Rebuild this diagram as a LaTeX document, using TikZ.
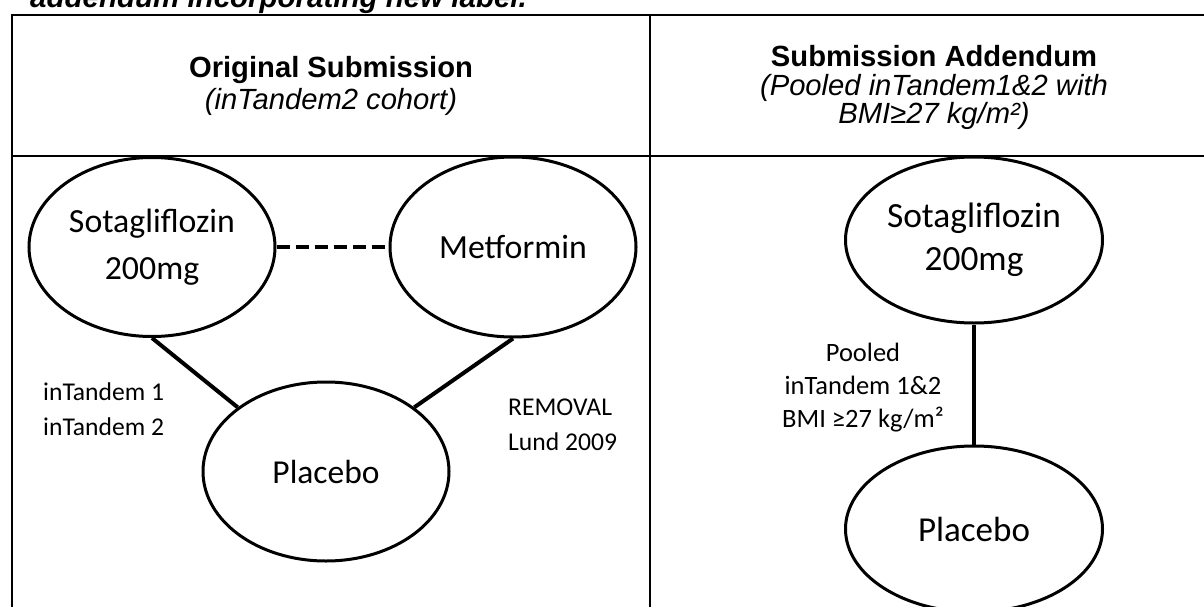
\documentclass[tikz,border=0pt]{standalone}
\usepackage{fontspec}
\setmainfont{Carlito}
\newfontfamily\arialfont{Liberation Sans}
\usetikzlibrary{shapes.geometric}
\begin{document}
\begin{tikzpicture}[x=1pt,y=-1pt,
  rule/.style={line width=2.6pt},
  drug/.style={draw, ellipse, line width=3pt, inner sep=0pt, align=center},
  link/.style={line width=4pt},
  hdrbold/.style={anchor=base, inner sep=0pt, font=\arialfont\bfseries\fontsize{29.2}{32}\selectfont},
  hdrital/.style={anchor=base, inner sep=0pt, font=\arialfont\itshape\fontsize{29.2}{32}\selectfont},
  lblA/.style={inner sep=0pt, font=\fontsize{25.6}{35}\selectfont},
  lblB/.style={inner sep=0pt, font=\fontsize{26.5}{33}\selectfont},
]
\useasboundingbox (0,0) rectangle (1204,607);
\fill[white] (0,0) rectangle (1204,607);
\clip (0,0) rectangle (1204,607);

% caption line above the table
\node[anchor=base west, inner sep=0pt,
      font=\arialfont\bfseries\itshape\fontsize{29.5}{32}\selectfont]
  (title) at (30,8) {addendum incorporating new label.};

% table rules
\draw[rule] (12,610) -- (12,15) -- (1210,15);
\draw[rule] (12,156) -- (1210,156);
\draw[rule] (650,15) -- (650,610);

% column headers
\node[hdrbold] (hleft)  at (331,78)  {Original Submission};
\node[hdrital] (hleftb) at (331,110) {(inTandem2 cohort)};
\node[hdrbold] (hright)  at (934,67)  {Submission Addendum};
\node[hdrital] (hrightb) at (934,96)  {(Pooled inTandem1\&2 with};
\node[hdrital] (hrightc) at (934,124) {BMI≥27 kg/m²)};

% original submission network
\node[drug, minimum width=246pt, minimum height=179pt,
      font=\fontsize{33.8}{47}\selectfont] (sotaA) at (152,247) {Sotagliflozin\\200mg};
\node[drug, minimum width=246pt, minimum height=180pt,
      font=\fontsize{33.8}{47}\selectfont] (metA) at (513,247) {Metformin};
\node[drug, minimum width=246pt, minimum height=179pt,
      font=\fontsize{33.5}{47}\selectfont] (plaA) at (326,471.5) {Placebo};

\draw[link, dash pattern=on 13pt off 6pt] (sotaA.east) -- (metA.west);
\draw[link] (sotaA.south) -- (plaA.144);
\draw[link] (metA.south) -- (plaA.36);

% trial labels (anchored on the baseline of their last line)
\node[lblA, anchor=base west, align=left] (trialsA) at (43,435) {inTandem 1\\inTandem 2};
\node[lblA, anchor=base west, align=left] (trialsB) at (508,450) {REMOVAL\\Lund 2009};

% submission addendum network
\node[drug, minimum width=257pt, minimum height=166pt,
      font=\fontsize{35.4}{43}\selectfont] (sotaB) at (974,240) {Sotagliflozin\\200mg};
\node[drug, minimum width=257pt, minimum height=166pt,
      font=\fontsize{35}{43}\selectfont] (plaB) at (974,529) {Placebo};
\draw[link] (sotaB.south) -- (plaB.north);

\node[lblB, anchor=base, align=center] (pooled) at (863,427)
  {Pooled\\inTandem 1\&2\\BMI ≥27 kg/m²};
\end{tikzpicture}
\end{document}
